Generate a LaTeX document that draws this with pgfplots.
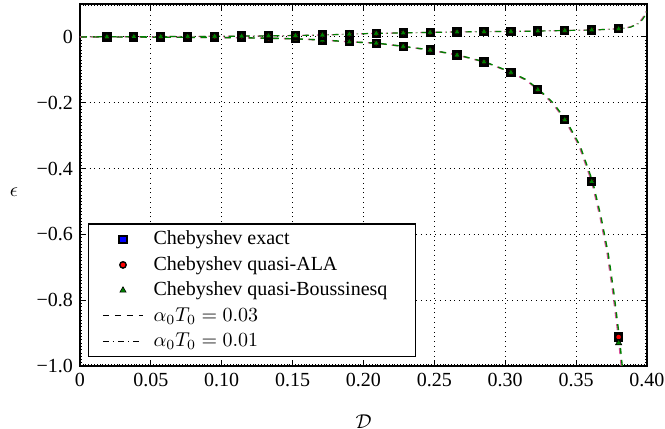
\documentclass[border=0pt]{standalone}
\usepackage{fontspec}
\setmainfont{Liberation Serif}
\usepackage{pgfplots}
\usepackage{pgfplotstable}
\pgfplotsset{compat=1.18}
\definecolor{dgreen}{rgb}{0,0.5,0}
\definecolor{mag}{rgb}{0.85,0.3,0.6}

% x, lower branch (alpha0T0=0.03), upper branch (alpha0T0=0.01)
\pgfplotstableread{
x      lo       up
0.019 -0.0002  0.0003
0.038 -0.0005  0.0006
0.057 -0.0008  0.0010
0.076 -0.0012  0.0014
0.095 -0.0018  0.0019
0.114 -0.0027  0.0025
0.133 -0.0040  0.0033
0.152 -0.0060  0.0042
0.171 -0.0095  0.0058
0.190 -0.0150  0.0085
0.209 -0.0190  0.0110
0.228 -0.0290  0.0120
0.247 -0.0400  0.0140
0.266 -0.0550  0.0150
0.285 -0.0760  0.0160
0.304 -0.1080  0.0165
0.323 -0.1600  0.0180
0.342 -0.2520  0.0195
0.361 -0.4400  0.0210
0.380 -0.9120  0.0245
}\exact
\pgfplotstableread{
x      lo       up
0.019 -0.0002  0.0003
0.038 -0.0005  0.0006
0.057 -0.0008  0.0010
0.076 -0.0012  0.0014
0.095 -0.0018  0.0019
0.114 -0.0027  0.0025
0.133 -0.0040  0.0033
0.152 -0.0060  0.0042
0.171 -0.0095  0.0058
0.190 -0.0150  0.0085
0.209 -0.0190  0.0110
0.228 -0.0290  0.0120
0.247 -0.0400  0.0140
0.266 -0.0550  0.0150
0.285 -0.0760  0.0160
0.304 -0.1080  0.0165
0.323 -0.1600  0.0180
0.342 -0.2520  0.0195
0.361 -0.4400  0.0210
0.380 -0.9120  0.0245
}\ala
\pgfplotstableread{
x      lo       up
0.019 -0.0002  0.0003
0.038 -0.0005  0.0006
0.057 -0.0008  0.0010
0.076 -0.0012  0.0014
0.095 -0.0018  0.0019
0.114 -0.0027  0.0025
0.133 -0.0040  0.0033
0.152 -0.0060  0.0042
0.171 -0.0095  0.0058
0.190 -0.0150  0.0085
0.209 -0.0190  0.0110
0.228 -0.0290  0.0120
0.247 -0.0400  0.0140
0.266 -0.0550  0.0150
0.285 -0.0760  0.0160
0.304 -0.1080  0.0165
0.323 -0.1600  0.0180
0.342 -0.2520  0.0195
0.361 -0.4400  0.0210
0.380 -0.9300  0.0245
}\bous
% continuous curves
\pgfplotstableread{
x      y
0.000  0.0000
0.019 -0.0002
0.038 -0.0005
0.057 -0.0008
0.076 -0.0012
0.095 -0.0018
0.114 -0.0027
0.133 -0.0040
0.152 -0.0060
0.171 -0.0095
0.190 -0.0150
0.209 -0.0190
0.228 -0.0290
0.247 -0.0400
0.266 -0.0550
0.285 -0.0760
0.304 -0.1080
0.314 -0.1300
0.323 -0.1600
0.333 -0.2000
0.342 -0.2520
0.352 -0.3300
0.361 -0.4400
0.367 -0.5500
0.372 -0.6600
0.376 -0.7800
0.380 -0.9200
0.3825 -1.0300
}\curvelo
\pgfplotstableread{
x      y
0.000  0.0000
0.019  0.0003
0.038  0.0006
0.057  0.0010
0.076  0.0014
0.095  0.0019
0.114  0.0025
0.133  0.0033
0.152  0.0042
0.171  0.0058
0.190  0.0085
0.209  0.0110
0.228  0.0120
0.247  0.0140
0.266  0.0150
0.285  0.0160
0.304  0.0165
0.323  0.0180
0.342  0.0195
0.361  0.0210
0.380  0.0245
0.388  0.0300
0.393  0.0400
0.396  0.0520
0.398  0.0650
0.400  0.0850
}\curveup

\pgfplotsset{
  markleg/.style={legend image code/.code={\path (0pt,0pt); \draw[##1] plot coordinates {(15pt,0cm)};\path (27pt,0pt);}},
  lineleg/.style={legend image code/.code={\path (0pt,0pt); \draw[##1] (5pt,0cm) -- (25pt,0cm); \path (27pt,0pt);}},
}

\begin{document}
\begin{tikzpicture}
\useasboundingbox (-40pt,-31.5pt) rectangle (292.5pt,183pt);
\begin{axis}[
  scale only axis,
  width=283.5pt, height=181pt,
  at={(0,0)}, anchor=south west,
  xmin=0, xmax=0.4, ymin=-1, ymax=0.1,
  xtick={0,0.05,...,0.4},
  xticklabels={0,0.05,0.10,0.15,0.20,0.25,0.30,0.35,0.40},
  ytick={-1,-0.8,-0.6,-0.4,-0.2,0},
  yticklabels={−1.0,−0.8,−0.6,−0.4,−0.2,0},
  minor x tick num=24, minor y tick num=19,
  tick align=inside,
  major tick length=3pt, minor tick length=1.2pt,
  every minor tick/.style={line width=0.3pt},
  tick style={black, line width=0.5pt},
  axis line style={line width=0.6pt},
  grid=major,
  major grid style={dotted, black, line width=0.5pt},
  ticklabel style={font=\normalsize},
  xlabel={$\mathcal{D}$},
  ylabel={$\epsilon$},
  xlabel style={at={(axis description cs:0.5,0)}, anchor=north, yshift=-21pt},
  ylabel style={rotate=-90, at={(axis description cs:0,0.48)}, anchor=east, xshift=-27.5pt},
  legend style={at={(axis cs:0.0055,-0.9725)}, anchor=south west, draw=black,
    line width=0.6pt, font=\normalsize, row sep=0.3pt, inner xsep=2pt, inner ysep=1.5pt,
    fill=white, nodes={inner xsep=3pt}},
  legend cell align=left,
]
% curves
\addplot[mag, dashed, line width=0.7pt, forget plot] table[x=x,y=y] {\curvelo};
\addplot[dgreen, dashed, line width=0.7pt, forget plot, xshift=0.5pt] table[x=x,y=y] {\curvelo};
\addplot[mag, dash dot, line width=0.6pt, forget plot] table[x=x,y=y] {\curveup};
\addplot[dgreen, dash dot, line width=0.6pt, forget plot, xshift=0.5pt] table[x=x,y=y] {\curveup};
% markers
\addplot[only marks, markleg, mark=square*, mark size=1.8pt, mark options={fill=blue, draw=black, line width=1pt}] table[x=x,y=lo] {\exact};
\addlegendentry{Chebyshev exact}
\addplot[only marks, markleg, mark=*, mark size=1.6pt, mark options={fill=red, draw=black, line width=0.7pt}] table[x=x,y=lo] {\ala};
\addlegendentry{Chebyshev quasi-ALA}
\addplot[only marks, markleg, mark=triangle*, mark size=1.8pt, mark options={fill=dgreen, draw=black, line width=0.3pt}] table[x=x,y=lo] {\bous};
\addlegendentry{Chebyshev quasi-Boussinesq\hspace*{9pt}}
\addplot[only marks, mark=square*, mark size=1.8pt, mark options={fill=blue, draw=black, line width=1pt}, forget plot] table[x=x,y=up] {\exact};
\addplot[only marks, mark=*, mark size=1.6pt, mark options={fill=red, draw=black, line width=0.7pt}, forget plot] table[x=x,y=up] {\ala};
\addplot[only marks, mark=triangle*, mark size=1.8pt, mark options={fill=dgreen, draw=black, line width=0.3pt}, forget plot] table[x=x,y=up] {\bous};
\addlegendimage{lineleg, black, dashed, line width=0.6pt}
\addlegendentry{$\alpha_0T_0=0.03$}
\addlegendimage{lineleg, black, dash dot, line width=0.5pt}
\addlegendentry{$\alpha_0T_0=0.01$}
\end{axis}
\end{tikzpicture}
\end{document}
